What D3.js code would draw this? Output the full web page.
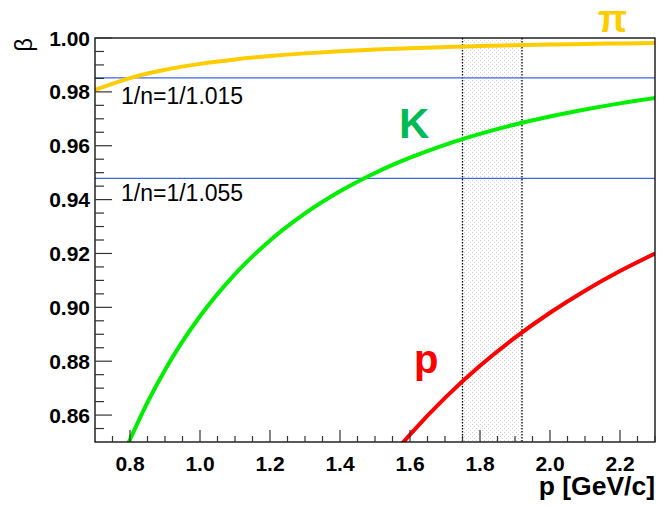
<!DOCTYPE html>
<html><head><meta charset="utf-8">
<script src="https://cdn.jsdelivr.net/npm/d3@7"></script>
<style>body{margin:0;background:#fff}svg{display:block}</style>
</head><body>
<script>
// ---- data ----
const pionP    = [0.70,0.80,0.90,1.00,1.10,1.20,1.30,1.40,1.50,1.60,1.70,1.80,1.90,2.00,2.10,2.20,2.30];
const pionBeta = [0.98070,0.98512,0.98819,0.99040,0.99205,0.99330,0.99429,0.99507,0.99570,0.99622,0.99665,0.99701,0.99731,0.99757,0.99780,0.99799,0.99816];
const kaonP    = [0.79,0.85,0.90,0.95,1.00,1.10,1.20,1.30,1.40,1.50,1.60,1.70,1.80,1.90,2.00,2.10,2.20,2.30];
const kaonBeta = [0.84803,0.86473,0.87675,0.88734,0.89668,0.91233,0.92480,0.93486,0.94308,0.94988,0.95555,0.96033,0.96439,0.96787,0.97086,0.97346,0.97573,0.97773];
const protonP    = [1.57,1.60,1.70,1.80,1.90,2.00,2.10,2.20,2.30];
const protonBeta = [0.84830,0.85275,0.86636,0.87827,0.88874,0.89799,0.90618,0.91347,0.91997];
const thresholds = [1/1.015, 1/1.055];
const thresholdLabels = ["1/n=1/1.015", "1/n=1/1.055"];
const band = [1.75, 1.92];
const xTicks = [0.8,1.0,1.2,1.4,1.6,1.8,2.0,2.2];
const yTicks = [0.86,0.88,0.90,0.92,0.94,0.96,0.98,1.00];
const particleLabels = ["π","K","p"];

// ---- layout ----
const W = 668, H = 506;
const L = 95, R = 655, T = 38, B = 442;
const x = d3.scaleLinear().domain([0.7, 2.3]).range([L, R]);
const y = d3.scaleLinear().domain([0.85, 1.00]).range([B, T]);

const svg = d3.select("body").append("svg").attr("width", W).attr("height", H);
const defs = svg.append("defs");
defs.append("clipPath").attr("id","clip").append("rect")
  .attr("x", L).attr("y", T).attr("width", R-L).attr("height", B-T);
const pat = defs.append("pattern").attr("id","dots").attr("patternUnits","userSpaceOnUse")
  .attr("width",4).attr("height",4);
pat.append("rect").attr("x",0).attr("y",0).attr("width",1).attr("height",1).attr("fill","#d2d2d2");
pat.append("rect").attr("x",2).attr("y",2).attr("width",1).attr("height",1).attr("fill","#d2d2d2");

const plot = svg.append("g").attr("clip-path","url(#clip)");

// band
plot.append("rect").attr("x", x(band[0])).attr("y", T).attr("width", x(band[1]) - x(band[0])).attr("height", B - T)
  .attr("fill","url(#dots)");
band.forEach(b => plot.append("line").attr("x1", x(b)).attr("x2", x(b)).attr("y1", T).attr("y2", B)
  .attr("stroke","#000").attr("stroke-width",1.3).attr("stroke-dasharray","1.5,1.5"));

// threshold lines
thresholds.forEach(t => plot.append("line").attr("x1", L).attr("x2", R).attr("y1", y(t)).attr("y2", y(t))
  .attr("stroke","#3d66e6").attr("stroke-width",1.2));

// curves
const line = d3.line().x(d => x(d[0])).y(d => y(d[1])).curve(d3.curveMonotoneX);
const series = [
  {p: pionP, b: pionBeta, c: "#ffcc00"},
  {p: kaonP, b: kaonBeta, c: "#00ee00"},
  {p: protonP, b: protonBeta, c: "#ff0000"}
];
series.forEach(s => plot.append("path").datum(s.p.map((v,i)=>[v, s.b[i]]))
  .attr("d", line).attr("fill","none").attr("stroke", s.c).attr("stroke-width", 4));

// frame
svg.append("rect").attr("x", L).attr("y", T).attr("width", R-L).attr("height", B-T)
  .attr("fill","none").attr("stroke","#000").attr("stroke-width",1.3);

// ticks
const xMinor = d3.range(0.75, 2.3001, 0.05);
const gx = svg.append("g").attr("stroke","#333").attr("stroke-width",1.2);
xMinor.forEach(v => {
  const major = xTicks.some(t => Math.abs(t - v) < 1e-6);
  gx.append("line").attr("x1", x(v)).attr("x2", x(v)).attr("y1", B).attr("y2", B - (major ? 12 : 6));
});
const yMinor = d3.range(0.855, 1.0001, 0.005);
yMinor.forEach(v => {
  const major = yTicks.some(t => Math.abs(t - v) < 1e-6);
  gx.append("line").attr("x1", L).attr("x2", L + (major ? 17 : 9)).attr("y1", y(v)).attr("y2", y(v));
});

const font = "'Liberation Sans', Arial, Helvetica, sans-serif";
svg.append("g").selectAll("text").data(xTicks).join("text")
  .attr("x", d => x(d)).attr("y", 471).attr("text-anchor","middle")
  .attr("font-family", font).attr("font-weight","bold").attr("font-size", 21)
  .text(d => d.toFixed(1));
svg.append("g").selectAll("text").data(yTicks).join("text")
  .attr("x", 90).attr("y", d => y(d) + 7.5).attr("text-anchor","end")
  .attr("font-family", font).attr("font-weight","bold").attr("font-size", 21)
  .text(d => d.toFixed(2));

// axis titles
svg.append("text").attr("x", R).attr("y", 495).attr("text-anchor","end")
  .attr("font-family", font).attr("font-weight","bold").attr("font-size", 26.5)
  .text("p [GeV/c]");
svg.append("text").attr("transform", `translate(32,${T}) rotate(-90)`).attr("text-anchor","end")
  .attr("font-family", font).attr("font-size", 24).text("β");

// threshold labels
svg.append("text").attr("x", 121).attr("y", 104).attr("font-family", font).attr("font-size", 23).text(thresholdLabels[0]);
svg.append("text").attr("x", 121).attr("y", 201).attr("font-family", font).attr("font-size", 23).text(thresholdLabels[1]);

// particle labels
svg.append("text").attr("x", 598).attr("y", 32).attr("font-family", font).attr("font-weight","bold")
  .attr("font-size", 38).attr("fill","#ffcc00").text(particleLabels[0]);
svg.append("text").attr("x", 399).attr("y", 138).attr("font-family", font).attr("font-weight","bold")
  .attr("font-size", 42).attr("fill","#00bb55").text(particleLabels[1]);
svg.append("text").attr("x", 414).attr("y", 373).attr("font-family", font).attr("font-weight","bold")
  .attr("font-size", 40).attr("fill","#ff0000").text(particleLabels[2]);
</script>
</body></html>
